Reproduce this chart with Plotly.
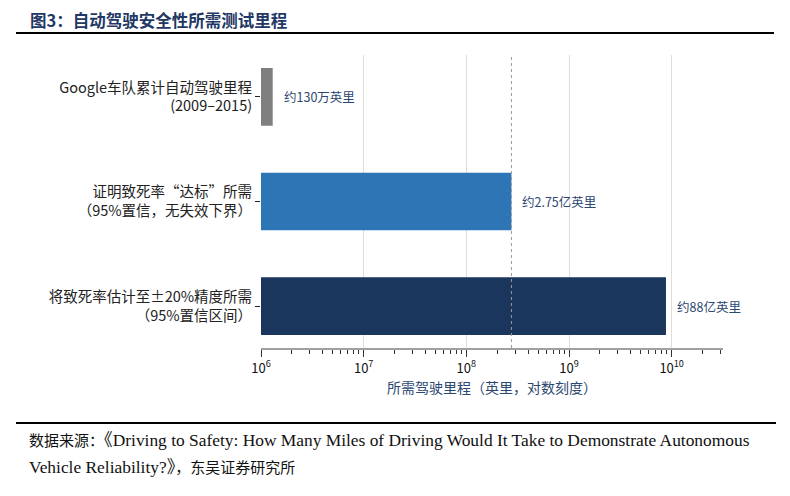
import numpy as np
import plotly.graph_objects as go

# data
categories = [
    "Google车队累计自动驾驶里程<br>(2009–2015)",
    "证明致死率“达标”所需<br>（95%置信，无失效下界）",
    "将致死率估计至±20%精度所需<br>（95%置信区间）",
]
miles = [1.3e6, 2.75e8, 8.8e9]
bar_labels = ["约130万英里", "约2.75亿英里", "约88亿英里"]
bar_colors = ["#7f7f7f", "#2e75b6", "#1b365d"]
tick_vals = [1e6, 1e7, 1e8, 1e9, 1e10]
tick_text = ["10<sup>6</sup>", "10<sup>7</sup>", "10<sup>8</sup>", "10<sup>9</sup>", "10<sup>10</sup>"]
ref_line = 2.75e8

CJK = "Noto Sans CJK SC, Noto Sans, sans-serif"
SERIF = "Liberation Serif, Noto Sans CJK SC, serif"
LABEL_BLUE = "#2c4770"

# page body has an 8px margin, so the figure is laid out 8px in from the window corner
OFF = 8
W, H = 790 - OFF, 496 - OFF
ML, MR, MT, MB = 261 - OFF, 67, 55 - OFF, 148
pw, ph = W - ML - MR, H - MT - MB


def px(x):
    return (x - OFF - ML) / pw


def py(y):
    return (H - MB - (y - OFF)) / ph


fig = go.Figure()
fig.add_trace(go.Bar(
    y=categories, x=miles, orientation="h",
    marker=dict(color=bar_colors, line=dict(width=0)),
    width=0.55, showlegend=False, hoverinfo="x",
))

# value labels to the right of each bar
for cat, v, t in zip(categories, miles, bar_labels):
    fig.add_annotation(
        x=np.log10(v), y=cat, text=t, showarrow=False,
        xanchor="left", xshift=9,
        font=dict(family=CJK, size=12.5, color=LABEL_BLUE),
    )

# dotted reference at the 2.75e8 threshold
fig.add_shape(type="line", xref="x", yref="paper", x0=ref_line, x1=ref_line, y0=0, y1=1,
              line=dict(color="#9a9a9a", width=1, dash="dot"), layer="above")

# header
fig.add_annotation(xref="paper", yref="paper", x=px(29), y=py(19.5),
                   text="<b>图3：自动驾驶安全性所需测试里程</b>",
                   showarrow=False, xanchor="left", yanchor="middle", borderpad=0,
                   font=dict(family=CJK, size=16.5, color="#1f3864"))
fig.add_shape(type="line", xref="paper", yref="paper", x0=px(16), x1=px(774), y0=py(33), y1=py(33),
              line=dict(color="black", width=2))

# footer
fig.add_shape(type="line", xref="paper", yref="paper", x0=px(16), x1=px(776), y0=py(423), y1=py(423),
              line=dict(color="black", width=2))
fig.add_annotation(xref="paper", yref="paper", x=px(27), y=py(440), showarrow=False,
                   xanchor="left", yanchor="middle",
                   text="<span style=\"font-size:15px\">数据来源：</span>《Driving to Safety: How Many Miles of Driving Would It Take to Demonstrate Autonomous",
                   font=dict(family=SERIF, size=17.4, color="#111111"))
fig.add_annotation(xref="paper", yref="paper", x=px(27), y=py(467), showarrow=False,
                   xanchor="left", yanchor="middle",
                   text="Vehicle Reliability?》<span style=\"font-size:15px\">，东吴证券研究所</span>",
                   font=dict(family=SERIF, size=17.4, color="#111111"))

fig.update_layout(
    width=W, height=H,
    margin=dict(l=ML, r=MR, t=MT, b=MB, autoexpand=False),
    paper_bgcolor="white", plot_bgcolor="white",
    font=dict(family=CJK, size=14, color="#222222"),
    xaxis=dict(
        type="log", range=[6, 10.5], automargin=False,
        tickvals=tick_vals, ticktext=tick_text,
        ticks="outside", ticklen=7, tickcolor="#333333", tickwidth=1,
        showline=True, linecolor="#a0a0a0", linewidth=2,
        showgrid=True, gridcolor="#dedede", gridwidth=1,
        tickfont=dict(size=13, color="#111111"),
        minor=dict(ticks="outside", ticklen=4, tickcolor="#333333", dtick="D1", showgrid=False),
        title=dict(text="所需驾驶里程（英里，对数刻度）", font=dict(size=14, color=LABEL_BLUE), standoff=8),
        zeroline=False,
    ),
    yaxis=dict(
        categoryorder="array", categoryarray=categories,
        autorange=False, range=[2.4, -0.4], automargin=False,
        ticks="outside", ticklen=5, tickcolor="#222222",
        showgrid=False, showline=False, zeroline=False,
        tickfont=dict(size=14.5, color="#222222"),
    ),
)

fig.write_html("out.html")
